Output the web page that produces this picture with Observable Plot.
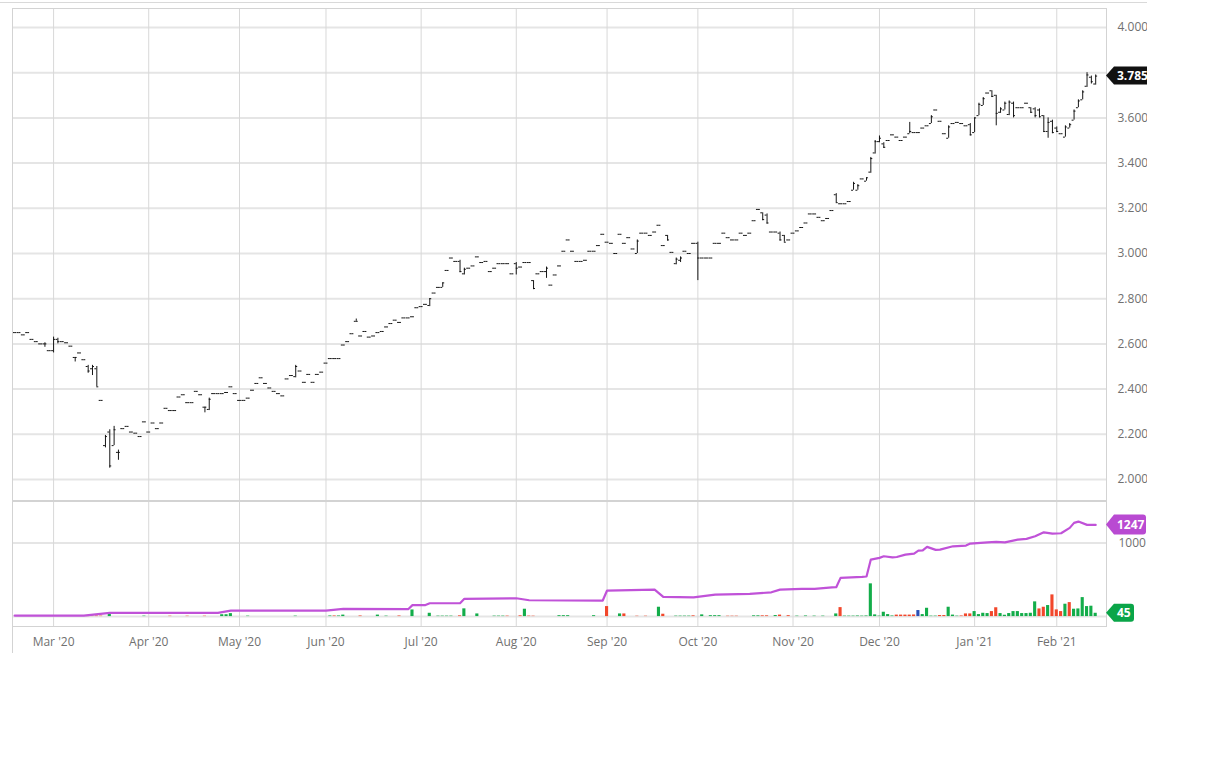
<!DOCTYPE html>
<html><head><meta charset="utf-8">
<script src="https://cdn.jsdelivr.net/npm/d3@7"></script>
<script src="https://cdn.jsdelivr.net/npm/@observablehq/plot@0.6"></script>
<style>
html,body{margin:0;padding:0;background:#fff;}
#chart{position:relative;width:1147px;height:700px;overflow:hidden;}
#chart svg{position:absolute;left:0;overflow:hidden;background:transparent;}
.line{position:absolute;background:#d6d6d6;}
</style></head><body><div id="chart"></div>
<script>
// ---- trading calendar (categories) ----
const firstDay = "2020-02-18";
const lastDay = "2021-02-17";
const holidays = ["2020-04-10","2020-05-25","2020-07-03","2020-09-07","2020-11-26","2020-12-25","2021-01-01","2021-01-18","2021-02-15"];

// ---- daily OHLC, one value per trading day from 2020-02-18 ----
const open = [
2.65,2.65,2.64,2.65,2.62,2.61,2.60,2.60,2.57,2.57,
2.62,2.61,2.605,2.59,2.54,2.56,2.53,2.50,2.49,2.49,
2.35,2.15,2.21,2.15,2.12,2.225,2.235,2.21,2.205,2.19,
2.255,2.21,2.25,2.225,2.25,2.315,2.305,2.305,2.365,2.375,
2.34,2.34,2.39,2.375,2.32,2.31,2.38,2.38,2.38,2.385,
2.41,2.38,2.35,2.35,2.36,2.395,2.425,2.45,2.425,2.405,
2.39,2.38,2.37,2.445,2.46,2.455,2.48,2.43,2.465,2.43,
2.465,2.475,2.515,2.535,2.535,2.535,2.595,2.61,2.645,2.70,
2.635,2.655,2.63,2.635,2.65,2.655,2.675,2.69,2.705,2.695,
2.715,2.715,2.72,2.76,2.765,2.775,2.77,2.825,2.85,2.85,
2.925,2.98,2.965,2.965,2.91,2.935,2.945,2.985,2.96,2.965,
2.92,2.935,2.955,2.955,2.955,2.91,2.955,2.94,2.96,2.96,
2.88,2.91,2.92,2.92,2.86,2.905,2.945,3.01,3.06,3.01,
2.965,2.965,2.97,3.01,3.01,3.035,3.085,3.05,3.045,3.00,
3.085,3.045,3.07,3.02,3.00,3.09,3.09,3.08,3.095,3.125,
3.035,3.08,3.005,2.955,2.97,3.01,3.00,3.045,3.045,2.98,
2.98,2.98,3.045,3.045,3.09,3.07,3.06,3.06,3.09,3.08,
3.09,3.145,3.195,3.18,3.17,3.095,3.095,3.09,3.08,3.06,
3.09,3.10,3.115,3.135,3.175,3.175,3.16,3.145,3.155,3.19,
3.26,3.22,3.22,3.23,3.28,3.28,3.33,3.32,3.36,3.445,
3.495,3.485,3.50,3.525,3.515,3.50,3.515,3.53,3.535,3.535,
3.555,3.565,3.575,3.635,3.585,3.53,3.51,3.575,3.58,3.575,
3.565,3.57,3.535,3.61,3.655,3.71,3.72,3.70,3.625,3.635,
3.615,3.665,3.645,3.645,3.665,3.645,3.64,3.635,3.61,3.54,
3.585,3.555,3.53,3.515,3.555,3.59,3.645,3.68,3.74,3.78,
3.75];
const high = [
2.65,2.65,2.64,2.65,2.62,2.61,2.60,2.605,2.57,2.63,
2.625,2.61,2.605,2.59,2.54,2.56,2.53,2.505,2.505,2.50,
2.35,2.195,2.22,2.235,2.13,2.225,2.235,2.21,2.205,2.19,
2.255,2.21,2.25,2.225,2.25,2.315,2.305,2.305,2.365,2.375,
2.34,2.34,2.39,2.375,2.32,2.36,2.38,2.38,2.38,2.385,
2.41,2.38,2.35,2.35,2.36,2.395,2.425,2.45,2.425,2.405,
2.39,2.38,2.37,2.445,2.46,2.505,2.48,2.43,2.465,2.43,
2.465,2.475,2.515,2.535,2.535,2.535,2.595,2.61,2.645,2.71,
2.635,2.655,2.63,2.635,2.65,2.655,2.675,2.69,2.705,2.695,
2.715,2.715,2.72,2.76,2.765,2.775,2.80,2.825,2.85,2.87,
2.925,2.98,2.965,2.97,2.935,2.935,2.945,2.985,2.96,2.965,
2.92,2.935,2.955,2.955,2.955,2.91,2.96,2.94,2.96,2.96,
2.88,2.91,2.92,2.94,2.86,2.905,2.945,3.01,3.06,3.01,
2.965,2.965,2.97,3.01,3.01,3.035,3.085,3.05,3.045,3.00,
3.085,3.045,3.07,3.02,3.06,3.09,3.09,3.08,3.095,3.125,
3.035,3.08,3.005,2.98,2.985,3.01,3.00,3.045,3.05,2.98,
2.98,2.98,3.045,3.045,3.09,3.07,3.06,3.06,3.09,3.08,
3.09,3.145,3.195,3.18,3.175,3.095,3.095,3.095,3.08,3.06,
3.09,3.10,3.115,3.135,3.175,3.175,3.16,3.145,3.155,3.19,
3.265,3.22,3.22,3.23,3.315,3.305,3.33,3.335,3.425,3.50,
3.52,3.49,3.50,3.525,3.515,3.50,3.515,3.58,3.535,3.535,
3.555,3.565,3.61,3.635,3.585,3.53,3.565,3.575,3.58,3.575,
3.565,3.575,3.60,3.665,3.69,3.71,3.72,3.70,3.645,3.67,
3.675,3.67,3.645,3.645,3.665,3.645,3.645,3.64,3.61,3.60,
3.59,3.56,3.53,3.565,3.575,3.635,3.68,3.72,3.80,3.785,
3.79];
const low = [
2.65,2.65,2.64,2.65,2.62,2.61,2.60,2.585,2.57,2.56,
2.60,2.61,2.605,2.59,2.52,2.56,2.53,2.47,2.46,2.41,
2.35,2.14,2.05,2.15,2.085,2.225,2.235,2.21,2.205,2.19,
2.255,2.21,2.25,2.225,2.25,2.315,2.305,2.305,2.365,2.375,
2.34,2.34,2.39,2.375,2.295,2.305,2.38,2.38,2.38,2.385,
2.41,2.38,2.35,2.35,2.36,2.395,2.425,2.45,2.425,2.405,
2.39,2.38,2.37,2.445,2.46,2.45,2.48,2.43,2.465,2.43,
2.465,2.475,2.515,2.535,2.535,2.535,2.595,2.61,2.645,2.70,
2.635,2.655,2.63,2.635,2.65,2.655,2.675,2.69,2.705,2.695,
2.715,2.715,2.72,2.76,2.765,2.775,2.765,2.825,2.85,2.85,
2.925,2.98,2.965,2.915,2.905,2.935,2.945,2.985,2.96,2.965,
2.92,2.935,2.955,2.955,2.955,2.91,2.905,2.94,2.96,2.96,
2.84,2.91,2.92,2.89,2.86,2.905,2.945,3.01,3.06,3.01,
2.965,2.965,2.97,3.01,3.01,3.035,3.085,3.05,3.045,3.00,
3.085,3.045,3.07,3.02,3.00,3.09,3.09,3.08,3.095,3.125,
3.035,3.055,3.005,2.95,2.96,3.01,3.00,3.045,2.88,2.98,
2.98,2.98,3.045,3.045,3.09,3.07,3.06,3.06,3.09,3.08,
3.09,3.145,3.195,3.145,3.13,3.095,3.095,3.055,3.05,3.06,
3.09,3.10,3.115,3.135,3.175,3.175,3.16,3.145,3.155,3.19,
3.225,3.22,3.22,3.23,3.28,3.28,3.33,3.32,3.355,3.44,
3.49,3.465,3.50,3.525,3.515,3.50,3.515,3.53,3.535,3.535,
3.555,3.565,3.575,3.635,3.585,3.53,3.51,3.575,3.58,3.575,
3.565,3.52,3.535,3.61,3.655,3.71,3.69,3.565,3.62,3.635,
3.61,3.60,3.645,3.645,3.665,3.62,3.60,3.60,3.535,3.51,
3.53,3.535,3.53,3.515,3.555,3.59,3.645,3.68,3.735,3.75,
3.745];
const close = [
2.65,2.65,2.64,2.65,2.62,2.61,2.60,2.60,2.57,2.62,
2.61,2.61,2.605,2.59,2.54,2.56,2.53,2.48,2.50,2.41,
2.35,2.19,2.06,2.22,2.12,2.225,2.235,2.21,2.205,2.19,
2.255,2.21,2.25,2.225,2.25,2.315,2.305,2.305,2.365,2.375,
2.34,2.34,2.39,2.375,2.32,2.355,2.38,2.38,2.38,2.385,
2.41,2.38,2.35,2.35,2.36,2.395,2.425,2.45,2.425,2.405,
2.39,2.38,2.37,2.445,2.46,2.50,2.48,2.43,2.465,2.43,
2.465,2.475,2.515,2.535,2.535,2.535,2.595,2.61,2.645,2.70,
2.635,2.655,2.63,2.635,2.65,2.655,2.675,2.69,2.705,2.695,
2.715,2.715,2.72,2.76,2.765,2.775,2.80,2.825,2.85,2.87,
2.925,2.98,2.965,2.92,2.93,2.935,2.945,2.985,2.96,2.965,
2.92,2.935,2.955,2.955,2.955,2.91,2.935,2.94,2.96,2.96,
2.845,2.91,2.92,2.935,2.86,2.905,2.945,3.01,3.06,3.01,
2.965,2.965,2.97,3.01,3.01,3.035,3.085,3.05,3.045,3.00,
3.085,3.045,3.07,3.02,3.055,3.09,3.09,3.08,3.095,3.125,
3.035,3.06,3.005,2.975,2.98,3.01,3.00,3.045,2.98,2.98,
2.98,2.98,3.045,3.045,3.09,3.07,3.06,3.06,3.09,3.08,
3.09,3.145,3.195,3.15,3.135,3.095,3.095,3.06,3.05,3.06,
3.09,3.10,3.115,3.135,3.175,3.175,3.16,3.145,3.155,3.19,
3.225,3.22,3.22,3.23,3.31,3.30,3.33,3.335,3.42,3.495,
3.51,3.47,3.50,3.525,3.515,3.50,3.515,3.54,3.535,3.535,
3.555,3.565,3.605,3.635,3.585,3.53,3.56,3.575,3.58,3.575,
3.565,3.525,3.60,3.66,3.685,3.71,3.695,3.62,3.64,3.665,
3.67,3.61,3.645,3.645,3.665,3.625,3.61,3.605,3.54,3.58,
3.535,3.54,3.53,3.56,3.57,3.63,3.675,3.715,3.79,3.76,
3.785];

// ---- volume (trading-day number, volume, direction: 1 up, -1 down, 0 unchanged) ----
const volDay = [17,18,19,20,22,30,36,40,44,48,49,50,54,65,73,74,75,76,80,84,86,89,92,96,98,99,100,101,103,104,107,111,112,113,114,117,118,119,120,126,127,128,134,137,140,141,144,146,149,150,153,154,155,156,157,159,161,162,163,165,166,167,171,172,173,174,176,177,179,181,183,185,187,190,191,192,193,194,195,196,197,198,199,200,201,202,203,204,205,206,207,208,209,210,211,212,213,214,215,216,217,218,219,220,221,222,223,224,225,226,227,228,229,230,231,232,233,234,235,236,237,238,239,240,241,242,243,244,245,246,247,248,249,250];
const volValue = [6,6,8,6,40,6,5,5,5,25,25,40,6,6,8,8,8,20,8,20,6,8,90,45,6,6,6,6,10,105,36,6,6,6,6,10,100,6,5,12,12,12,12,136,36,36,5,5,127,32,6,6,6,6,10,23,12,12,12,5,5,5,10,10,10,10,14,20,12,6,8,6,6,36,122,6,6,6,8,6,8,445,23,6,59,27,8,20,20,20,20,22,82,27,113,6,6,14,14,127,20,6,8,36,36,68,27,45,41,68,120,41,18,41,68,68,41,41,45,200,104,127,150,295,91,68,168,190,100,104,258,136,141,45];
const volDir = [-1,-1,-1,-1,1,1,-1,-1,-1,1,1,1,1,1,1,-1,1,1,-1,1,1,-1,1,1,1,1,1,1,-1,1,1,1,1,1,-1,-1,1,-1,-1,1,1,1,1,-1,1,-1,-1,-1,1,-1,1,1,1,1,-1,1,1,1,1,-1,-1,-1,1,1,-1,-1,1,-1,-1,1,1,1,1,1,-1,1,1,1,1,1,1,1,1,1,1,1,1,-1,-1,-1,-1,-1,0,1,1,1,1,-1,-1,1,1,1,-1,-1,-1,1,1,1,1,-1,-1,1,1,1,1,1,1,1,1,1,-1,-1,1,-1,-1,-1,1,-1,1,1,1,1,1,1];

// ---- purple indicator line (trading-day number, value) ----
const lineDay = [0,16,22,47,50,72,76,91,92,95,96,103,104,116,119,136,137,148,150,157,162,170,175,177,182,185,189,190,191,196,197,198,200,201,203,204,206,208,209,210,211,213,214,217,220,221,225,227,229,232,234,236,238,240,242,244,245,246,248,250];
const lineValue = [14,14,50,50,82,82,105,100,156,156,181,181,241,249,222,218,354,367,268,262,299,309,330,367,377,376,398,400,526,540,545,775,798,820,806,810,843,857,898,900,948,907,910,956,966,993,1010,1015,1010,1047,1057,1092,1146,1129,1133,1206,1274,1292,1247,1247];

// ---- axis ticks and labels ----
const priceTicks = [2.0,2.2,2.4,2.6,2.8,3.0,3.2,3.4,3.6,3.8,4.0];
const volumeTicks = [1000];
const volumeGrid = [0,1000];
const lastPriceLabel = "3.785";

// ---- build ----
const parse = d3.utcParse("%Y-%m-%d"), fmt = d3.utcFormat("%Y-%m-%d");
const tradingDays = d3.utcDays(parse(firstDay), d3.utcDay.offset(parse(lastDay), 1))
  .filter(d => d.getUTCDay() !== 0 && d.getUTCDay() !== 6 && !holidays.includes(fmt(d)));
const monthStarts = tradingDays.map((d, i) => i)
  .filter(i => i > 0 && tradingDays[i].getUTCMonth() !== tradingDays[i - 1].getUTCMonth());
const monthFmt = d3.utcFormat("%b '%y");
const xDomain = [-0.5, tradingDays.length - 0.5];

const bars = close.map((c, i) => ({i, open: open[i], high: high[i], low: low[i], close: c}));
const vols = volDay.map((d, k) => ({i: d, v: volValue[k], dir: volDir[k]}));
const obv = lineDay.map((d, k) => ({i: d, v: lineValue[k]}));
const lastClose = close[close.length - 1];
// the axis label that sits under the last-price tag is hidden, as in the original
const priceLabelTicks = priceTicks.filter(t => Math.abs(t - lastClose) > 0.05);

const W = 1147, ML = 12, MR = 41;
const ink = "#161616";
const font = {fontFamily: "'Open Sans', sans-serif", fontSize: "12px", color: "#707070", background: "transparent", overflow: "hidden"};

const price = Plot.plot({
  width: W, height: 501, marginTop: 8, marginBottom: 0, marginLeft: ML, marginRight: MR,
  style: font,
  x: {domain: xDomain, axis: null},
  y: {domain: [2 - 22/226, 4 + 19/226], axis: "right", ticks: priceLabelTicks, tickFormat: d3.format(".3f"), tickSize: 0, tickPadding: 11, label: null},
  marks: [
    Plot.ruleY(priceTicks, {stroke: "#e5e5e5", strokeWidth: 2}),
    Plot.ruleX(monthStarts, {stroke: "#d8d8d8"}),
    Plot.ruleX(bars, {x: "i", y1: "low", y2: "high", stroke: ink}),
    Plot.ruleY(bars, {y: "open", x1: d => d.i - 0.45, x2: "i", stroke: ink}),
    Plot.ruleY(bars, {y: "close", x1: "i", x2: d => d.i + 0.45, stroke: ink}),
    Plot.frame({stroke: "#d3d3d3"})
  ]
});

const volume = Plot.plot({
  width: W, height: 160, marginTop: 0, marginBottom: 35, marginLeft: ML, marginRight: MR,
  style: font,
  x: {domain: xDomain, axis: "bottom", ticks: monthStarts, tickFormat: i => monthFmt(tradingDays[i]), tickSize: 0, tickPadding: 11, label: null},
  y: {domain: [-135, 1565], axis: "right", ticks: volumeTicks, tickFormat: d => String(d), tickSize: 0, tickPadding: 12, label: null},
  marks: [
    Plot.ruleY(volumeGrid, {stroke: "#e5e5e5", strokeWidth: 2}),
    Plot.ruleX(monthStarts, {stroke: "#d8d8d8"}),
    Plot.rectY(vols, {x1: d => d.i - 0.36, x2: d => d.i + 0.36, y1: 0, y2: "v",
      fill: d => d.dir > 0 ? "#13ad4a" : d.dir < 0 ? "#f2472b" : "#2b4fb5"}),
    Plot.line(obv, {x: "i", y: "v", stroke: "#c052d8", strokeWidth: 2.2}),
    Plot.frame({stroke: "#d3d3d3"})
  ]
});

const chart = document.getElementById("chart");
price.style.top = "0px";
volume.style.top = "501px";
chart.appendChild(price);
chart.appendChild(volume);

// separator & outer lines
const addLine = (l, t, w, h, c) => { const d = document.createElement("div"); d.className = "line"; Object.assign(d.style, {left: l + "px", top: t + "px", width: w + "px", height: h + "px"}); if (c) d.style.background = c; chart.appendChild(d); };
addLine(0, 2, W, 1, "#d9d9d9");
addLine(ML, 500, W - ML - MR, 2, "#d3d3d3");
addLine(ML, 8, 1, 645, "#d3d3d3");

// value tags on the right
function tag(svg, y, text, fill, right, h) {
  const g = d3.select(svg).append("g");
  const x0 = W - MR, hh = h / 2;
  g.append("path").attr("d", `M${x0},${y} L${x0 + 8},${y - hh} H${right - 3} Q${right},${y - hh} ${right},${y - hh + 3} V${y + hh - 3} Q${right},${y + hh} ${right - 3},${y + hh} H${x0 + 8} Z`).attr("fill", fill);
  g.append("text").attr("x", x0 + 11).attr("y", y).attr("dy", "0.36em").attr("fill", "#fff")
    .attr("text-anchor", "start")
    .attr("font-family", "'Open Sans', sans-serif").attr("font-weight", 700).attr("font-size", 12).text(text);
}
const py = price.scale("y"), vy = volume.scale("y");
tag(price, py.apply(lastClose), lastPriceLabel, "#111", 1170, 18);
tag(volume, vy.apply(lineValue[lineValue.length - 1]), String(lineValue[lineValue.length - 1]), "#b94ad2", 1146, 20);
tag(volume, vy.apply(volValue[volValue.length - 1]), String(volValue[volValue.length - 1]), "#0aa548", 1134, 18);

if (tradingDays.length !== 253 || open.length !== 251 || high.length !== 251 || low.length !== 251 || close.length !== 251 || volDir.length !== volDay.length || volValue.length !== volDay.length || lineValue.length !== lineDay.length)
  console.error("length mismatch", tradingDays.length, open.length, high.length, low.length, close.length, volDay.length, volValue.length, volDir.length, lineDay.length, lineValue.length);
</script></body></html>
